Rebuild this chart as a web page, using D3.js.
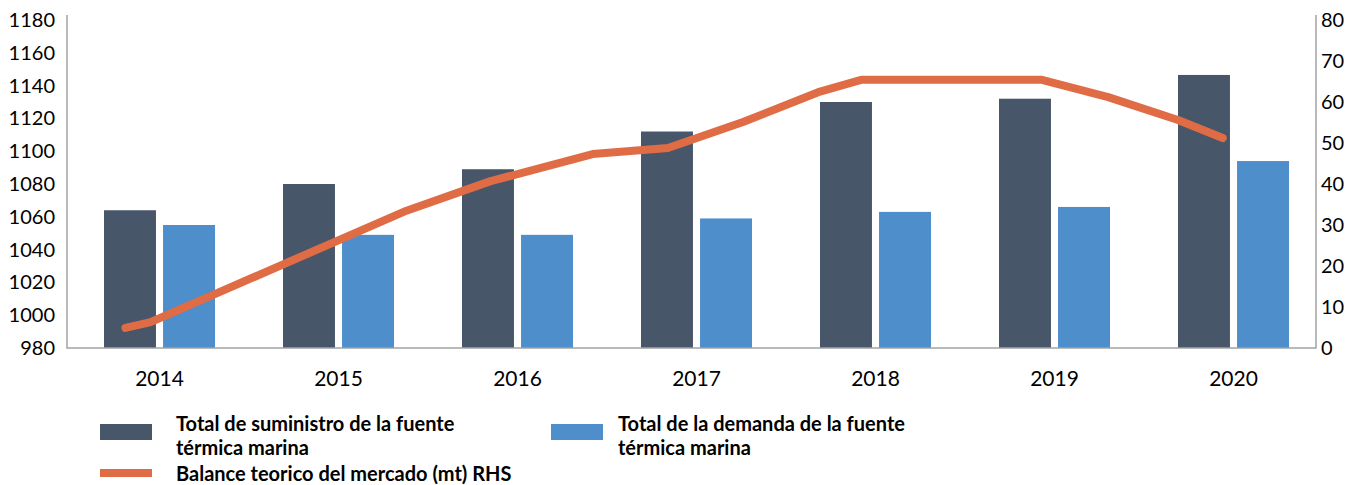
<!DOCTYPE html>
<html>
<head>
<meta charset="utf-8">
<script src="https://cdn.jsdelivr.net/npm/d3@7"></script>
<style>
  body { margin: 0; background: #fff; }
  svg { display: block; font-family: Lato, "Open Sans", sans-serif; }
</style>
</head>
<body>
<div id="chart"></div>
<script>
// categories and series (left axis, bars)
var years = ["2014", "2015", "2016", "2017", "2018", "2019", "2020"];
var supply = [1064, 1080, 1089, 1112, 1130, 1132, 1146.5];
var demand = [1055, 1049, 1049, 1059, 1063, 1066, 1094];

// market balance line (right axis), vertices
var balanceX = [2013.81, 2013.95, 2015.38, 2015.85, 2016.42, 2016.84, 2017.26, 2017.68, 2017.92, 2018.93, 2019.30, 2019.69, 2019.94];
var balanceY = [4.9, 6.3, 33.5, 40.7, 47.3, 48.8, 55.1, 62.4, 65.4, 65.4, 61.2, 55.6, 51.2];

var leftTicks = [980, 1000, 1020, 1040, 1060, 1080, 1100, 1120, 1140, 1160, 1180];
var rightTicks = [0, 10, 20, 30, 40, 50, 60, 70, 80];

var legendLabels = [
    ["Total de suministro de la fuente", "térmica marina"],
    ["Total de la demanda de la fuente", "térmica marina"],
    ["Balance teorico del mercado (mt) RHS"]
];

var colSupply = "#485669",
    colDemand = "#4e8ecb",
    colLine = "#e06c45",
    colAxis = "#a3a3a3";

var W = 1354, H = 485;
var plot = { left: 67, right: 1316, top: 20, bottom: 348 };

var svg = d3.select("#chart").append("svg")
    .attr("width", W)
    .attr("height", H);

// scales
var x = d3.scaleBand()
    .domain(years)
    .range([plot.left + 3, plot.right + 7]);

var xSub = d3.scaleBand()
    .domain(["supply", "demand"])
    .range([34, 145])
    .paddingInner(0.12);

var yLeft = d3.scaleLinear()
    .domain([980, 1180])
    .range([plot.bottom, plot.top]);

var yRight = d3.scaleLinear()
    .domain([0, 80])
    .range([plot.bottom, plot.top]);

var xLine = d3.scaleLinear()
    .domain([2014, 2020])
    .range([x("2014") + x.bandwidth() / 2, x("2020") + x.bandwidth() / 2]);

// bars
var groups = svg.append("g").selectAll("g")
    .data(years)
    .enter().append("g")
    .attr("transform", function(d) { return "translate(" + x(d) + ",0)"; });

groups.append("rect")
    .attr("x", xSub("supply"))
    .attr("width", xSub.bandwidth())
    .attr("y", function(d, i) { return yLeft(supply[i]); })
    .attr("height", function(d, i) { return plot.bottom - yLeft(supply[i]); })
    .attr("fill", colSupply);

groups.append("rect")
    .attr("x", xSub("demand"))
    .attr("width", xSub.bandwidth())
    .attr("y", function(d, i) { return yLeft(demand[i]); })
    .attr("height", function(d, i) { return plot.bottom - yLeft(demand[i]); })
    .attr("fill", colDemand);

// frame
svg.append("path")
    .attr("d", "M" + plot.left + "," + (plot.top - 5) + "V" + plot.bottom + "H" + plot.right + "V" + (plot.top - 5))
    .attr("fill", "none")
    .attr("stroke", colAxis)
    .attr("stroke-width", 1.5);

// line
var line = d3.line()
    .x(function(d) { return xLine(d[0]); })
    .y(function(d) { return yRight(d[1]); });

svg.append("path")
    .datum(balanceX.map(function(v, i) { return [v, balanceY[i]]; }))
    .attr("d", line)
    .attr("fill", "none")
    .attr("stroke", colLine)
    .attr("stroke-width", 8)
    .attr("stroke-linejoin", "round")
    .attr("stroke-linecap", "round");

// axes (labels only, no ticks)
var yAxisL = d3.axisLeft(yLeft).tickValues(leftTicks).tickFormat(d3.format("d")).tickSize(0).tickPadding(12);
var gL = svg.append("g")
    .attr("transform", "translate(" + plot.left + ",0)")
    .call(yAxisL);

var yAxisR = d3.axisRight(yRight).tickValues(rightTicks).tickSize(0).tickPadding(5);
var gR = svg.append("g")
    .attr("transform", "translate(" + plot.right + ",0)")
    .call(yAxisR);

var xAxis = d3.axisBottom(x).tickSize(0).tickPadding(23);
var gX = svg.append("g")
    .attr("transform", "translate(0," + plot.bottom + ")")
    .call(xAxis);

[gL, gR, gX].forEach(function(g) {
    g.select(".domain").remove();
    g.selectAll("text")
        .attr("font-family", "Lato, sans-serif")
        .attr("font-size", "20px")
        .attr("fill", "#000");
});
gX.selectAll("text").attr("font-size", "21px");

// legend
var legend = svg.append("g")
    .attr("font-family", "Lato, sans-serif")
    .attr("font-weight", "bold")
    .attr("font-size", "20px")
    .attr("fill", "#000");

var legendItems = [
    { x: 100, y: 424, h: 16, color: colSupply, tx: 176, lines: legendLabels[0] },
    { x: 551, y: 424, h: 16, color: colDemand, tx: 618, lines: legendLabels[1] },
    { x: 100, y: 469, h: 8, color: colLine, tx: 176, lines: legendLabels[2] }
];

legendItems.forEach(function(d) {
    legend.append("text")
        .attr("x", d.tx)
        .attr("y", (d.h === 8 ? d.y + 5 : d.y))
        .attr("dy", "0.35em")
        .text(d.lines[0]);
    if (d.lines[1]) {
        legend.append("text")
            .attr("x", d.tx)
            .attr("y", d.y + 24)
            .attr("dy", "0.35em")
            .text(d.lines[1]);
    }
    legend.append("rect")
        .attr("x", d.x)
        .attr("y", d.y)
        .attr("width", 52)
        .attr("height", d.h)
        .attr("fill", d.color);
});
</script>
</body>
</html>
